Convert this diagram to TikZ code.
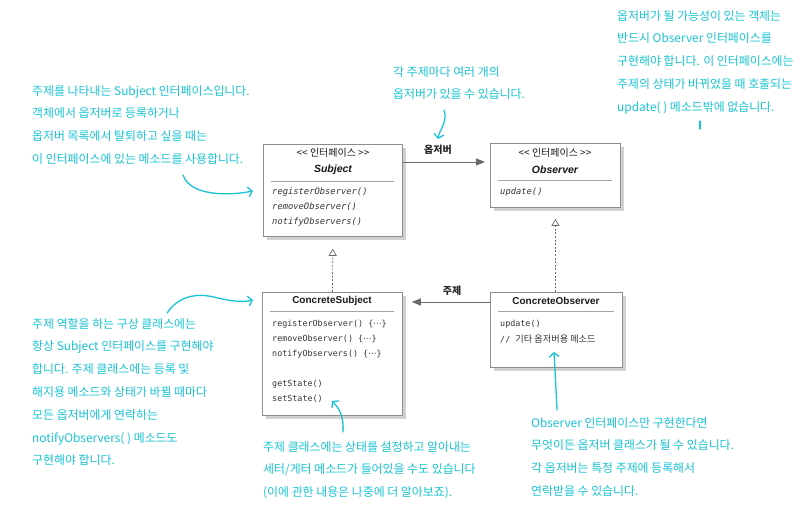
\documentclass[tikz,border=0pt]{standalone}
\usepackage{fontspec}
\setmainfont{Liberation Sans}
\setmonofont{DejaVu Sans Mono}
\newfontfamily\kr{Noto Sans CJK KR}
\newfontfamily\dvs{DejaVu Sans}
\usetikzlibrary{arrows.meta,shadows}
\definecolor{note}{RGB}{25,196,212}
\definecolor{boxline}{RGB}{140,140,140}
\definecolor{conn}{RGB}{105,105,105}
\tikzset{
  umlbox/.style={draw=boxline, line width=0.8pt, fill=white, anchor=north west, inner sep=0pt,
    drop shadow={shadow xshift=3.5pt, shadow yshift=-3.5pt, fill=black!18, opacity=1}},
  sepline/.style={draw=boxline!80, line width=0.8pt},
  stereo/.style={font=\kr\fontsize{10}{12}\selectfont, text=black!90, inner sep=0pt},
  ititle/.style={font=\bfseries\itshape\fontsize{10.5}{12}\selectfont, text=black!90, inner sep=0pt},
  ctitle/.style={font=\bfseries\fontsize{10}{12}\selectfont, text=black!90, inner sep=0pt},
  imeth/.style={font=\ttfamily\itshape\fontsize{8.8}{10}\selectfont, text=black!80, anchor=west, inner sep=0pt},
  cmeth/.style={font=\ttfamily\fontsize{8.4}{10}\selectfont, text=black!80, anchor=west, inner sep=0pt},
  assoc/.style={draw=conn, line width=1pt, -{Triangle[width=7pt,length=9pt]}, fill=conn},
  realize/.style={draw=conn, line width=0.7pt, dash pattern=on 2pt off 1.6pt,
    -{Triangle[open,width=8pt,length=7pt,fill=white]}},
  clabel/.style={font=\kr\bfseries\fontsize{10}{12}\selectfont, text=black!85, inner sep=0pt},
  notetext/.style={font=\kr\fontsize{11.9}{22.8}\selectfont, text=note, align=left, anchor=north west, inner sep=0pt},
  notearrow/.style={draw=note, line width=1.3pt, line cap=round, -{Straight Barb[length=4pt,width=10pt,line width=1.3pt]}},
}
\begin{document}
\begin{tikzpicture}[x=1pt,y=-1pt]
\useasboundingbox[fill=white] (0,0) rectangle (800,511);

% ---------- boxes ----------
\node[umlbox, minimum width=139pt, minimum height=92pt] (subj) at (263,144) {};
\node[umlbox, minimum width=130pt, minimum height=64pt] (obs) at (490,143) {};
\node[umlbox, minimum width=140pt, minimum height=123pt] (csubj) at (262,292) {};
\node[umlbox, minimum width=132pt, minimum height=75pt] (cobs) at (490,292) {};

% Subject
\node[stereo] (subjst) at (333,153) {<< 인터페이스 >>};
\node[ititle] (subjt) at (333,170) {Subject};
\draw[sepline] (271,181) -- (394,181);
\node[imeth] (m1) at (272,192) {registerObserver()};
\node[imeth] (m2) at (272,207) {removeObserver()};
\node[imeth] (m3) at (272,222) {notifyObservers()};

% Observer
\node[stereo] (obsst) at (555,153) {<< 인터페이스 >>};
\node[ititle] (obst) at (555,170) {Observer};
\draw[sepline] (498,180) -- (612,180);
\node[imeth] (o1) at (500,192) {update()};

% ConcreteSubject
\node[ctitle] (csubjt) at (332,301) {ConcreteSubject};
\draw[sepline] (270,311) -- (394,311);
\node[cmeth] (c1) at (272,324) {registerObserver() \{{\dvs ⋯}\}};
\node[cmeth] (c2) at (272,339) {removeObserver() \{{\dvs ⋯}\}};
\node[cmeth] (c3) at (272,354) {notifyObservers() \{{\dvs ⋯}\}};
\node[cmeth] (c4) at (272,384) {getState()};
\node[cmeth] (c5) at (272,399) {setState()};

% ConcreteObserver
\node[ctitle] (cobst) at (556,301) {ConcreteObserver};
\draw[sepline] (498,311) -- (614,311);
\node[cmeth] (d1) at (500,324) {update()};
\node[cmeth] (d2) at (500,339) {// {\kr\fontsize{9.2}{10}\selectfont 기타 옵저버용 메소드}};

% ---------- connectors ----------
\draw[assoc, shorten >=5pt] (subj.east |- 0,162) -- (obs.west |- 0,162);
\node[clabel] (lobs) at (438,150) {옵저버};
\draw[assoc, shorten >=9pt] (cobs.west |- 0,302) -- (csubj.east |- 0,302);
\node[clabel] (lsubj) at (452,291) {주제};
\draw[realize, shorten >=12pt] (csubj.north) -- (subj.south);
\draw[realize, shorten >=11pt] (cobs.north -| obs.south) -- (obs.south);

% ---------- notes ----------
\node[notetext] (n1) at (32,85) {주제를 나타내는 Subject 인터페이스입니다.\\객체에서 옵저버로 등록하거나\\옵저버 목록에서 탈퇴하고 싶을 때는\\이 인터페이스에 있는 메소드를 사용합니다.};
\node[notetext] (n2) at (393,66) {각 주제마다 여러 개의\\옵저버가 있을 수 있습니다.};
\node[notetext] (n3) at (617,10) {옵저버가 될 가능성이 있는 객체는\\반드시 Observer 인터페이스를\\구현해야 합니다. 이 인터페이스에는\\주제의 상태가 바뀌었을 때 호출되는\\update( ) 메소드밖에 없습니다.};
\node[notetext] (n4) at (32,318) {주제 역할을 하는 구상 클래스에는\\항상 Subject 인터페이스를 구현해야\\합니다. 주제 클래스에는 등록 및\\해지용 메소드와 상태가 바뀔 때마다\\모든 옵저버에게 연락하는\\notifyObservers( ) 메소드도\\구현해야 합니다.};
\node[notetext] (n5) at (263,441) {주제 클래스에는 상태를 설정하고 알아내는\\세터/게터 메소드가 들어있을 수도 있습니다\\(이에 관한 내용은 나중에 더 알아보죠).};
\node[notetext] (n6) at (531,417) {Observer 인터페이스만 구현한다면\\무엇이든 옵저버 클래스가 될 수 있습니다.\\각 옵저버는 특정 주제에 등록해서\\연락받을 수 있습니다.};

% ---------- note arrows ----------
\coordinate (a1s) at (183,175);
\coordinate (a1e) at (253,191);
\draw[notearrow] (a1s) .. controls (190,196) and (228,196) .. (a1e);
\coordinate (a2s) at (444,110);
\coordinate (a2e) at (438,139);
\draw[notearrow] (a2s) .. controls (448,122) and (440,128) .. (a2e);
\coordinate (a3s) at (700,121);
\coordinate (a3e) at (700,129);
\draw[draw=note, line width=1.3pt, line cap=round] (a3s) -- (a3e);
\coordinate (a4s) at (167,313);
\coordinate (a4m) at (218,298);
\coordinate (a4e) at (253,300);
\draw[notearrow] (a4s) .. controls (180,294) and (200,293) .. (a4m) .. controls (234,302) and (244,302) .. (a4e);
\coordinate (a5s) at (343,432);
\coordinate (a5e) at (332,401);
\draw[notearrow] (a5s) .. controls (344,418) and (340,409) .. (a5e);
\coordinate (a6s) at (557,410);
\coordinate (a6e) at (554,352);
\draw[notearrow] (a6s) .. controls (556,390) and (555,370) .. (a6e);
\end{tikzpicture}
\end{document}
